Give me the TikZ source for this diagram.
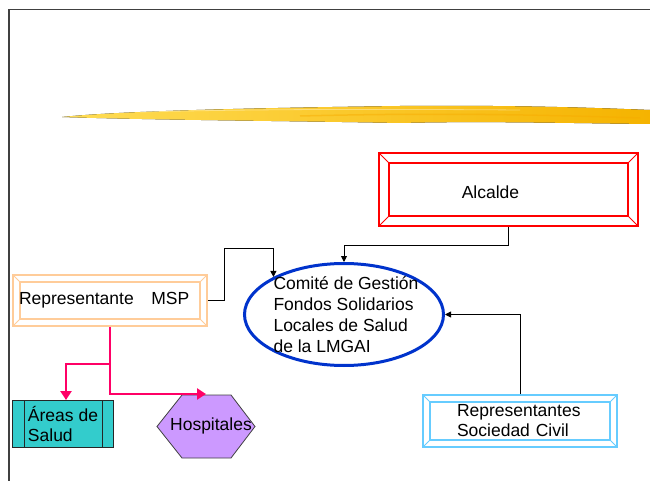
\documentclass[tikz,border=0pt]{standalone}
\usepackage{fontspec}
\setmainfont{Liberation Sans}
\usetikzlibrary{arrows.meta, shapes.geometric}
\definecolor{FSred}{HTML}{FF0000}
\definecolor{FSorange}{HTML}{FFCC99}
\definecolor{FSsky}{HTML}{66CCFF}
\definecolor{FSblue}{HTML}{0033CC}
\definecolor{FSteal}{HTML}{33CCCC}
\definecolor{FSlilac}{HTML}{CC99FF}
\definecolor{FSpink}{HTML}{FF0066}
\definecolor{FSframe}{HTML}{404040}
\definecolor{brushlight}{HTML}{FFDD55}
\definecolor{brushdark}{HTML}{F5B300}
\tikzset{
   bevel inset/.store in=\bevinset, bevel inset=7pt,
   bevelbox/.style={draw=#1, line width=1.8pt, align=left, inner ysep=0pt,
      path picture={
         \coordinate (bsw) at (path picture bounding box.south west);
         \coordinate (bne) at (path picture bounding box.north east);
         \draw[#1, line width=1.3pt] ([shift={(\bevinset,\bevinset)}]bsw) rectangle ([shift={(-\bevinset,-\bevinset)}]bne);
         \draw[#1, line width=1pt] (bsw) -- ([shift={(\bevinset,\bevinset)}]bsw)
            (bne) -- ([shift={(-\bevinset,-\bevinset)}]bne)
            (bsw |- bne) -- ([shift={(\bevinset,-\bevinset)}]bsw |- bne)
            (bne |- bsw) -- ([shift={(-\bevinset,\bevinset)}]bne |- bsw);
      }},
   procbox/.style={draw=black!85, line width=1pt, fill=FSteal, align=left,
      path picture={
         \coordinate (bsw) at (path picture bounding box.south west);
         \coordinate (bne) at (path picture bounding box.north east);
         \draw[black!85, line width=1pt] ([xshift=12pt]bsw) -- ([xshift=12pt]bsw |- bne)
            ([xshift=-11pt]bne) -- ([xshift=-11pt]bne |- bsw);
      }},
   comitebox/.style={ellipse, draw=FSblue, line width=3pt, inner sep=0pt},
   hexa/.style={draw=black!75, line width=0.8pt, fill=FSlilac},
   conn/.style={draw=black, line width=0.9pt, -{Triangle[length=6pt,width=6pt]}},
   pinkline/.style={draw=FSpink, line width=2.6pt, -{Triangle[length=9pt,width=11pt]}}
}
\begin{document}
\begin{tikzpicture}[x=1pt, y=-1pt, font=\fontsize{17.5}{21}\selectfont]
   \useasboundingbox (0,0) rectangle (650,481);
   % Frame
   \draw[FSframe, line width=1.4pt] (9,481) -- (9,9.5) -- (650,9.5);
   % Yellow brush stroke
   \fill[left color=brushlight, right color=brushdark]
      (62,117) .. controls (120,111) and (250,108) .. (400,106)
      .. controls (520,105) and (600,108) .. (650,110) -- (650,124)
      .. controls (560,123) and (480,121) .. (400,123)
      .. controls (300,121) and (150,120) .. (62,117) -- cycle;
   \draw[brushdark!85!orange, line width=1.5pt, opacity=0.45] (300,116) .. controls (420,113) and (520,114) .. (640,118);
   \draw[white, line width=0.8pt, opacity=0.35] (140,112) .. controls (260,109) and (380,109) .. (520,110);
   % Boxes
   \node[bevelbox=FSred, bevel inset=10pt, minimum width=259pt, minimum height=73pt] (alcalde) at (508.5,189.5) {};
   \node at ([xshift=-18pt,yshift=-3pt]alcalde.center) {Alcalde};
   \node[bevelbox=FSorange, minimum width=194pt, minimum height=51pt, text width=182pt, inner xsep=6pt] (msp) at (110,300.5) {Representante\ \ \ MSP};
   \node[bevelbox=FSsky, minimum width=194pt, minimum height=52pt, text width=126pt, inner xsep=34pt, font=\fontsize{17.5}{20}\selectfont] (sociedad) at (520,421) {Representantes\\Sociedad Civil};
   \node[comitebox, minimum width=199pt, minimum height=102pt] (comite) at (344,314.5) {};
   \node[align=left] (comitetext) at (346,314.5) {Comité de Gestión\\Fondos Solidarios\\Locales de Salud\\de la LMGAI};
   \node[procbox, minimum width=101pt, minimum height=47pt, inner xsep=0pt, font=\fontsize{17.5}{20}\selectfont] (areas) at (63,424) {Áreas de\\Salud};
   \draw[hexa] (157,426.5) -- (182,395) -- (231,395) -- (255,426.5) -- (231,458) -- (182,458) -- cycle;
   \node (hosp) at (211,426) {Hospitales};
   \coordinate (hosptop) at (206,394);
   % Connectors
   \draw[conn] (alcalde.south) -- (alcalde.south |- 0,245) -| (comite.north);
   \draw[conn] (msp.east) -- ++(17,0) |- (comite.152.5 |- 0,248) -- (comite.152.5);
   \draw[conn] (sociedad.north) |- (comite.east);
   \draw[pinkline] (msp.south) |- (hosptop);
   \draw[pinkline] (msp.south |- 0,364) -| ([xshift=3pt]areas.north);
\end{tikzpicture}
\end{document}
